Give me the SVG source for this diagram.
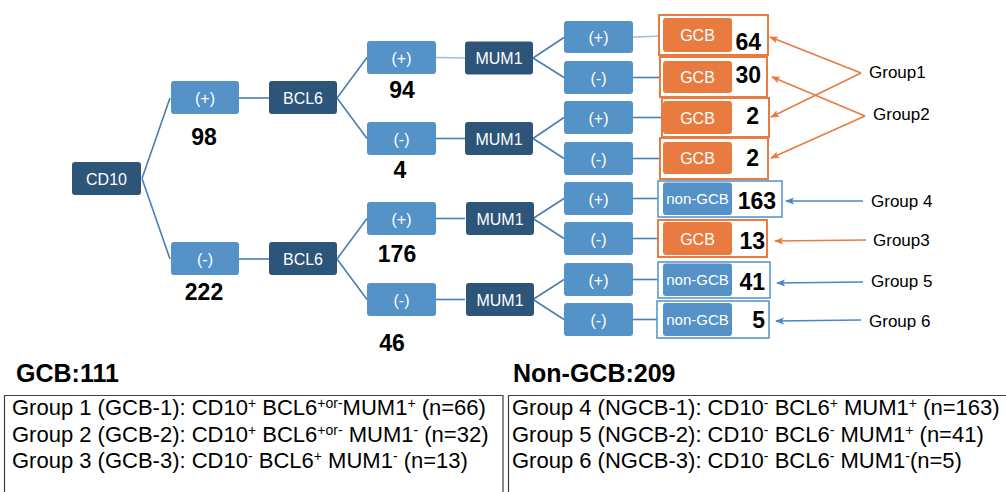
<svg xmlns="http://www.w3.org/2000/svg" width="1006" height="492" viewBox="0 0 1006 492">
<defs>
<style>
.dk{fill:#2D5479;}
.lt{fill:#5592C8;}
.or{fill:#E97B40;}
.nt{font-family:"Liberation Sans",Arial,sans-serif;font-size:16px;fill:#FFFFFF;text-anchor:middle;}
.ng{font-size:15px;}
.num{font-family:"Liberation Sans",Arial,sans-serif;font-size:23px;font-weight:bold;fill:#000000;}
.grp{font-family:"Liberation Sans",Arial,sans-serif;font-size:17px;fill:#000000;}
.hd{font-family:"Liberation Sans",Arial,sans-serif;font-size:25px;font-weight:bold;fill:#000000;}
.tb{font-family:"Liberation Sans",Arial,sans-serif;font-size:22px;fill:#000000;}
.sup{font-size:14px;}
.con{stroke:#4A7EB4;stroke-width:1.6;fill:none;}
.conl{stroke:#9BBDE0;stroke-width:1.6;fill:none;}
.ob{fill:#FFFFFF;stroke:#E97B40;stroke-width:2;}
.bb{fill:#FFFFFF;stroke:#5A96CC;stroke-width:1.6;}
.ao{stroke:#E97B40;stroke-width:1.6;fill:none;marker-end:url(#ahO);}
.ab{stroke:#4A86C5;stroke-width:1.6;fill:none;marker-end:url(#ahB);}
.tl{stroke:#404040;stroke-width:1.2;fill:none;}
</style>
<marker id="ahO" markerWidth="9" markerHeight="8" refX="8" refY="4" orient="auto" markerUnits="userSpaceOnUse"><path d="M0,0.5 L9,4 L0,7.5 L2,4 z" fill="#E97B40"/></marker>
<marker id="ahB" markerWidth="9" markerHeight="8" refX="8" refY="4" orient="auto" markerUnits="userSpaceOnUse"><path d="M0,0.5 L9,4 L0,7.5 L2,4 z" fill="#4A86C5"/></marker>
</defs>
<rect width="1006" height="492" fill="#FFFFFF"/>

<g id="connectors">
<line class="con" x1="142" y1="178.5" x2="170" y2="98"/>
<line class="con" x1="142" y1="178.5" x2="170" y2="259"/>
<line class="con" x1="239" y1="98" x2="269" y2="98"/>
<line class="con" x1="239" y1="259" x2="269" y2="259"/>
<line class="con" x1="337" y1="98" x2="367" y2="57.5"/>
<line class="con" x1="337" y1="98" x2="367" y2="138.5"/>
<line class="con" x1="337" y1="259" x2="367" y2="218.5"/>
<line class="con" x1="337" y1="259" x2="367" y2="299.5"/>
<line class="conl" x1="436" y1="57.5" x2="465" y2="58"/>
<line class="con" x1="436" y1="138.5" x2="465" y2="138.5"/>
<line class="con" x1="436" y1="218.5" x2="465" y2="218.5"/>
<line class="con" x1="436" y1="299.5" x2="465" y2="299.5"/>
<line class="con" x1="533" y1="58" x2="564" y2="37.5"/>
<line class="con" x1="533" y1="58" x2="564" y2="77.5"/>
<line class="con" x1="533" y1="138.5" x2="564" y2="117.5"/>
<line class="con" x1="533" y1="138.5" x2="564" y2="158.5"/>
<line class="con" x1="533" y1="218.5" x2="564" y2="198.5"/>
<line class="con" x1="533" y1="218.5" x2="564" y2="238.5"/>
<line class="con" x1="533" y1="299.5" x2="564" y2="279.5"/>
<line class="con" x1="533" y1="299.5" x2="564" y2="319.5"/>
<line class="conl" x1="633" y1="37" x2="663" y2="36"/>
<line class="con" x1="633" y1="77.5" x2="663" y2="77.5"/>
<line class="con" x1="633" y1="117.5" x2="663" y2="117.5"/>
<line class="con" x1="633" y1="158.5" x2="663" y2="158.5"/>
<line class="con" x1="633" y1="198.5" x2="663" y2="198.5"/>
<line class="con" x1="633" y1="238.5" x2="663" y2="238.5"/>
<line class="con" x1="633" y1="279.5" x2="663" y2="279.5"/>
<line class="con" x1="633" y1="319.5" x2="663" y2="319.5"/>
<line class="ao" x1="861" y1="73" x2="770" y2="37"/>
<line class="ao" x1="861" y1="73" x2="771" y2="117"/>
<line class="ao" x1="865" y1="116" x2="772" y2="77"/>
<line class="ao" x1="865" y1="116" x2="771" y2="158"/>
<line class="ab" x1="863" y1="201" x2="786" y2="201"/>
<line class="ao" x1="866" y1="240" x2="775" y2="241"/>
<line class="ab" x1="863" y1="282" x2="777" y2="283"/>
<line class="ab" x1="861" y1="320" x2="776" y2="321"/>
</g>

<g id="cd10"><rect class="dk" x="72" y="162" width="69" height="33" rx="3"/><text class="nt" x="106.5" y="184.5">CD10</text></g>
<g id="cd10-pos"><rect class="lt" x="171" y="81" width="68" height="33" rx="3"/><text class="nt" x="205" y="103.5">(+)</text><text class="num" x="204" y="145" text-anchor="middle">98</text></g>
<g id="cd10-neg"><rect class="lt" x="171" y="242" width="68" height="33" rx="3"/><text class="nt" x="205" y="264.5">(-)</text><text class="num" x="204" y="300" text-anchor="middle">222</text></g>
<g id="bcl6-a"><rect class="dk" x="269" y="81" width="68" height="33" rx="3"/><text class="nt" x="303" y="103.5">BCL6</text></g>
<g id="bcl6-b"><rect class="dk" x="269" y="242" width="68" height="33" rx="3"/><text class="nt" x="303" y="264.5">BCL6</text></g>

<g id="bcl6-a-pos"><rect class="lt" x="367" y="41" width="69" height="33" rx="3"/><text class="nt" x="401.5" y="63.5">(+)</text><text class="num" x="402" y="98" text-anchor="middle">94</text></g>
<g id="bcl6-a-neg"><rect class="lt" x="367" y="122" width="69" height="33" rx="3"/><text class="nt" x="401.5" y="144.5">(-)</text><text class="num" x="400" y="178" text-anchor="middle">4</text></g>
<g id="bcl6-b-pos"><rect class="lt" x="367" y="202" width="69" height="33" rx="3"/><text class="nt" x="401.5" y="224.5">(+)</text><text class="num" x="397" y="262" text-anchor="middle">176</text></g>
<g id="bcl6-b-neg"><rect class="lt" x="367" y="283" width="69" height="33" rx="3"/><text class="nt" x="401.5" y="305.5">(-)</text><text class="num" x="392" y="351" text-anchor="middle">46</text></g>

<g id="mum1-a"><rect class="dk" x="465" y="41.5" width="68" height="33" rx="3"/><text class="nt" x="499" y="64">MUM1</text></g>
<g id="mum1-b"><rect class="dk" x="465" y="122" width="68" height="33" rx="3"/><text class="nt" x="499" y="144.5">MUM1</text></g>
<g id="mum1-c"><rect class="dk" x="466" y="202" width="68" height="33" rx="3"/><text class="nt" x="500" y="224.5">MUM1</text></g>
<g id="mum1-d"><rect class="dk" x="466" y="283" width="68" height="33" rx="3"/><text class="nt" x="500" y="305.5">MUM1</text></g>

<g id="m1"><rect class="lt" x="564" y="21" width="69" height="32" rx="3"/><text class="nt" x="598.5" y="42.5">(+)</text></g>
<g id="m2"><rect class="lt" x="564" y="61" width="69" height="33" rx="3"/><text class="nt" x="598.5" y="83.5">(-)</text></g>
<g id="m3"><rect class="lt" x="564" y="101" width="69" height="33" rx="3"/><text class="nt" x="598.5" y="123.5">(+)</text></g>
<g id="m4"><rect class="lt" x="564" y="142" width="69" height="33" rx="3"/><text class="nt" x="598.5" y="164.5">(-)</text></g>
<g id="m5"><rect class="lt" x="564" y="182" width="69" height="33" rx="3"/><text class="nt" x="598.5" y="204.5">(+)</text></g>
<g id="m6"><rect class="lt" x="564" y="222" width="69" height="33" rx="3"/><text class="nt" x="598.5" y="244.5">(-)</text></g>
<g id="m7"><rect class="lt" x="564" y="263" width="69" height="33" rx="3"/><text class="nt" x="598.5" y="285.5">(+)</text></g>
<g id="m8"><rect class="lt" x="564" y="303" width="69" height="33" rx="3"/><text class="nt" x="598.5" y="325.5">(-)</text></g>

<g id="r1"><rect class="ob" x="659" y="15" width="109" height="40"/><rect class="or" x="663" y="18" width="69" height="34" rx="3"/><text class="nt" x="697.5" y="40.5">GCB</text><text class="num" x="761" y="50" text-anchor="end">64</text></g>
<g id="r2"><rect class="ob" x="660" y="57" width="107" height="40"/><rect class="or" x="663" y="61" width="69" height="32" rx="3"/><text class="nt" x="697.5" y="82.5">GCB</text><text class="num" x="761" y="83" text-anchor="end">30</text></g>
<g id="r3"><rect class="ob" x="662" y="98" width="107" height="39"/><rect class="or" x="663" y="101" width="69" height="33" rx="3"/><text class="nt" x="697.5" y="123.5">GCB</text><text class="num" x="759" y="124" text-anchor="end">2</text></g>
<g id="r4"><rect class="ob" x="660" y="138" width="108" height="41"/><rect class="or" x="663" y="142" width="69" height="32" rx="3"/><text class="nt" x="697.5" y="163.5">GCB</text><text class="num" x="759" y="166" text-anchor="end">2</text></g>
<g id="r5"><rect class="bb" x="658" y="181" width="124" height="36"/><rect class="lt" x="663" y="182.5" width="69" height="32.5" rx="3"/><text class="nt ng" x="697.5" y="204">non-GCB</text><text class="num" x="776" y="209" text-anchor="end">163</text></g>
<g id="r6"><rect class="ob" x="658" y="220" width="109" height="37"/><rect class="or" x="663" y="222" width="69" height="33" rx="3"/><text class="nt" x="697.5" y="244.5">GCB</text><text class="num" x="765" y="249" text-anchor="end">13</text></g>
<g id="r7"><rect class="bb" x="658" y="262" width="112" height="36"/><rect class="lt" x="663" y="263.5" width="69" height="32.5" rx="3"/><text class="nt ng" x="697.5" y="285">non-GCB</text><text class="num" x="765" y="290" text-anchor="end">41</text></g>
<g id="r8"><rect class="bb" x="657" y="301" width="112" height="37"/><rect class="lt" x="663" y="303" width="69" height="33" rx="3"/><text class="nt ng" x="697.5" y="325">non-GCB</text><text class="num" x="765" y="328" text-anchor="end">5</text></g>

<g id="labels">
<text class="grp" x="869" y="78">Group1</text>
<text class="grp" x="873" y="120">Group2</text>
<text class="grp" x="871" y="207">Group 4</text>
<text class="grp" x="873" y="246">Group3</text>
<text class="grp" x="871" y="287">Group 5</text>
<text class="grp" x="869" y="327">Group 6</text>
</g>

<g id="summary">
<text class="hd" x="16" y="382">GCB:111</text>
<text class="hd" x="513" y="382">Non-GCB:209</text>
<path class="tl" d="M4.5,492 V395.5 H503 V492"/>
<path class="tl" d="M508.5,492 V395.5 H1006"/>
<text class="tb" x="12" y="415">Group 1 (GCB-1): CD10<tspan class="sup" dy="-7">+</tspan><tspan dy="7"> BCL6</tspan><tspan class="sup" dy="-7">+or-</tspan><tspan dy="7">MUM1</tspan><tspan class="sup" dy="-7">+</tspan><tspan dy="7"> (n=66)</tspan></text>
<text class="tb" x="12" y="442">Group 2 (GCB-2): CD10<tspan class="sup" dy="-7">+</tspan><tspan dy="7"> BCL6</tspan><tspan class="sup" dy="-7">+or-</tspan><tspan dy="7"> MUM1</tspan><tspan class="sup" dy="-7">-</tspan><tspan dy="7"> (n=32)</tspan></text>
<text class="tb" x="12" y="468">Group 3 (GCB-3): CD10<tspan class="sup" dy="-7">-</tspan><tspan dy="7"> BCL6</tspan><tspan class="sup" dy="-7">+</tspan><tspan dy="7"> MUM1</tspan><tspan class="sup" dy="-7">-</tspan><tspan dy="7"> (n=13)</tspan></text>
<text class="tb" x="512" y="415">Group 4 (NGCB-1): CD10<tspan class="sup" dy="-7">-</tspan><tspan dy="7"> BCL6</tspan><tspan class="sup" dy="-7">+</tspan><tspan dy="7"> MUM1</tspan><tspan class="sup" dy="-7">+</tspan><tspan dy="7"> (n=163)</tspan></text>
<text class="tb" x="512" y="442">Group 5 (NGCB-2): CD10<tspan class="sup" dy="-7">-</tspan><tspan dy="7"> BCL6</tspan><tspan class="sup" dy="-7">-</tspan><tspan dy="7"> MUM1</tspan><tspan class="sup" dy="-7">+</tspan><tspan dy="7"> (n=41)</tspan></text>
<text class="tb" x="512" y="468">Group 6 (NGCB-3): CD10<tspan class="sup" dy="-7">-</tspan><tspan dy="7"> BCL6</tspan><tspan class="sup" dy="-7">-</tspan><tspan dy="7"> MUM1</tspan><tspan class="sup" dy="-7">-</tspan><tspan dy="7">(n=5)</tspan></text>
</g>
</svg>
